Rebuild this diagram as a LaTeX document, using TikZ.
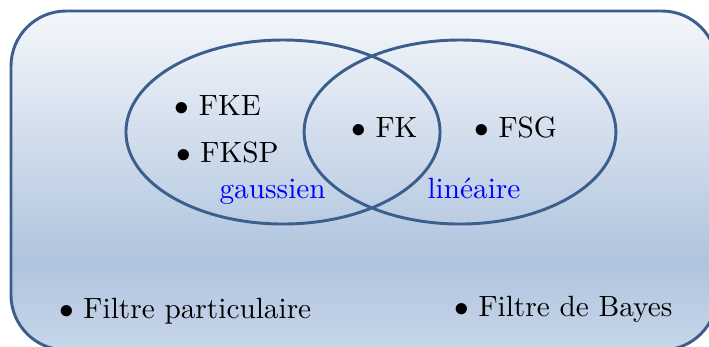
\documentclass[tikz,border=0pt]{standalone}
\usepackage{tikz}
\definecolor{borderblue}{RGB}{59,94,140}
\definecolor{paneltop}{RGB}{244,247,251}
\definecolor{panelmid}{RGB}{176,196,222}
\definecolor{panelbot}{RGB}{199,214,234}
\definecolor{labelblue}{RGB}{0,0,255}
\pgfdeclareverticalshading{panelshade}{100bp}{color(0bp)=(panelbot); color(25bp)=(panelbot); color(38bp)=(panelmid); color(75bp)=(paneltop); color(100bp)=(paneltop)}
\tikzset{
  setline/.style={draw=borderblue, line width=1pt},
  item/.style={anchor=base west, inner sep=0pt, font=\normalsize},
  setlabel/.style={anchor=base west, inner sep=0pt, text=labelblue},
}
\begin{document}
\begin{tikzpicture}[x=0.3413pt, y=-0.3413pt]
\useasboundingbox (0,0) rectangle (709,346);
\clip (0,0) rectangle (709,346);
\shadedraw[shading=panelshade, draw=borderblue, line width=1pt, rounded corners=18.8pt] (11,11) rectangle (717,350);
\draw[setline] (283,132) ellipse [x radius=53.6pt, y radius=31.4pt];
\draw[setline] (460,132) ellipse [x radius=53.2pt, y radius=31.4pt];
\node[item] (fke) at (174,115) {$\bullet$ FKE};
\node[item] (fksp) at (175.5,162) {$\bullet$ FKSP};
\node[item] (fk) at (350.5,137) {$\bullet$ FK};
\node[item] (fsg) at (473.5,137) {$\bullet$ FSG};
\node[setlabel] (gauss) at (219,198) {gaussien};
\node[setlabel] (lin) at (427,198) {linéaire};
\node[item] (fp) at (58.5,318) {$\bullet$ Filtre particulaire};
\node[item] (fb) at (453.5,316) {$\bullet$ Filtre de Bayes};
\end{tikzpicture}
\end{document}
